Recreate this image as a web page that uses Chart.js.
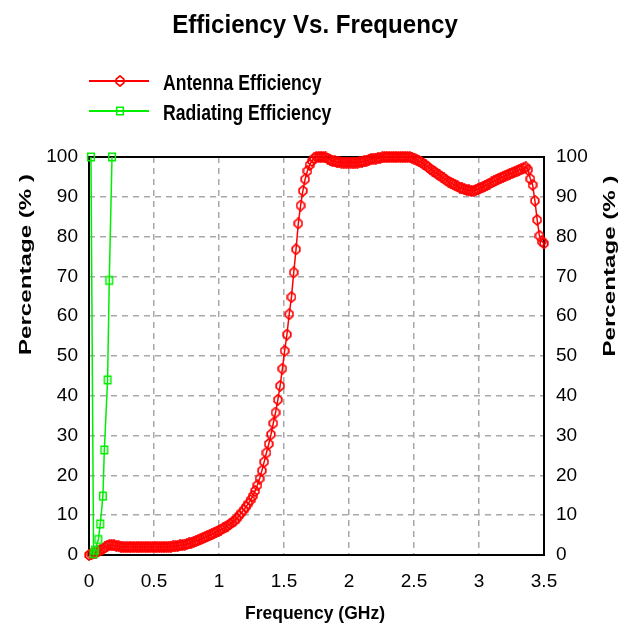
<!DOCTYPE html>
<html>
<head>
<meta charset="utf-8">
<script src="https://cdn.jsdelivr.net/npm/chart.js@4.4.1/dist/chart.umd.min.js"></script>
<style>
    html, body { margin: 0; padding: 0; background: #fff; }
    #wrap { width: 629px; height: 632px; }
</style>
</head>
<body>
<div id="wrap"><canvas id="chartEff" width="629" height="632"></canvas></div>
<script>
// frequency in GHz, efficiency in %
const antFreq = [
    0, 0.0175, 0.035, 0.0525, 0.07, 0.0875, 0.105, 0.1225, 0.14, 0.1575,
    0.175, 0.1925, 0.21, 0.2275, 0.245, 0.2625, 0.28, 0.2975, 0.315, 0.3325,
    0.35, 0.3675, 0.385, 0.4025, 0.42, 0.4375, 0.455, 0.4725, 0.49, 0.5075,
    0.525, 0.5425, 0.56, 0.5775, 0.595, 0.6125, 0.63, 0.6475, 0.665, 0.6825,
    0.7, 0.7175, 0.735, 0.7525, 0.77, 0.7875, 0.805, 0.8225, 0.84, 0.8575,
    0.875, 0.8925, 0.91, 0.9275, 0.945, 0.9625, 0.98, 0.9975, 1.015, 1.0325,
    1.05, 1.0675, 1.085, 1.1025, 1.12, 1.1375, 1.155, 1.1725, 1.19, 1.2075,
    1.225, 1.2425, 1.26, 1.2775, 1.295, 1.3125, 1.33, 1.3475, 1.365, 1.3825,
    1.4, 1.4175, 1.435, 1.4525, 1.47, 1.4875, 1.505, 1.5225, 1.54, 1.5575,
    1.575, 1.5925, 1.61, 1.6275, 1.645, 1.6625, 1.68, 1.6975, 1.715, 1.7325,
    1.75, 1.7675, 1.785, 1.8025, 1.82, 1.8375, 1.855, 1.8725, 1.89, 1.9075,
    1.925, 1.9425, 1.96, 1.9775, 1.995, 2.0125, 2.03, 2.0475, 2.065, 2.0825,
    2.1, 2.1175, 2.135, 2.1525, 2.17, 2.1875, 2.205, 2.2225, 2.24, 2.2575,
    2.275, 2.2925, 2.31, 2.3275, 2.345, 2.3625, 2.38, 2.3975, 2.415, 2.4325,
    2.45, 2.4675, 2.485, 2.5025, 2.52, 2.5375, 2.555, 2.5725, 2.59, 2.6075,
    2.625, 2.6425, 2.66, 2.6775, 2.695, 2.7125, 2.73, 2.7475, 2.765, 2.7825,
    2.8, 2.8175, 2.835, 2.8525, 2.87, 2.8875, 2.905, 2.9225, 2.94, 2.9575,
    2.975, 2.9925, 3.01, 3.0275, 3.045, 3.0625, 3.08, 3.0975, 3.115, 3.1325,
    3.15, 3.1675, 3.185, 3.2025, 3.22, 3.2375, 3.255, 3.2725, 3.29, 3.3075,
    3.325, 3.3425, 3.36, 3.3775, 3.395, 3.4125, 3.43, 3.4475, 3.465, 3.4825,
    3.5,
];
const antEff = [
    0, 0.2, 0.4, 0.6, 0.9, 1.2, 1.5, 1.9, 2.3, 2.5,
    2.5, 2.4, 2.3, 2.2, 2.1, 2.0, 2.0, 2.0, 2.0, 2.0,
    2.0, 2.0, 2.0, 2.0, 2.0, 2.0, 2.0, 2.0, 2.0, 2.0,
    2.0, 2.0, 2.0, 2.0, 2.0, 2.05, 2.1, 2.15, 2.2, 2.3,
    2.4, 2.5, 2.6, 2.75, 2.9, 3.1, 3.3, 3.5, 3.7, 3.95,
    4.2, 4.45, 4.7, 4.95, 5.2, 5.5, 5.8, 6.1, 6.4, 6.7,
    7.0, 7.4, 7.8, 8.2, 8.6, 9.2, 9.9, 10.6, 11.3, 12.1,
    12.9, 13.8, 14.8, 16.1, 17.5, 19.2, 21.2, 23.4, 25.7, 27.9,
    30.3, 33.1, 35.8, 39.0, 42.5, 46.8, 51.3, 55.4, 60.5, 64.8,
    71.0, 76.8, 83.3, 87.8, 91.5, 94.4, 96.5, 98.0, 99.0, 99.7,
    100, 100, 100, 100, 99.9, 99.6, 99.3, 99.0, 98.9, 98.7,
    98.7, 98.6, 98.6, 98.6, 98.6, 98.6, 98.6, 98.6, 98.6, 98.7,
    98.8, 98.9, 99.1, 99.3, 99.5, 99.6, 99.6, 99.7, 99.8, 99.9,
    100, 100, 100, 100, 100, 100, 100, 100, 100, 100,
    100, 100, 99.8, 99.6, 99.3, 99.0, 98.7, 98.3, 97.9, 97.5,
    97.0, 96.6, 96.2, 95.8, 95.4, 95.0, 94.6, 94.2, 93.8, 93.5,
    93.2, 92.9, 92.6, 92.3, 92.1, 91.9, 91.7, 91.6, 91.5, 91.5,
    91.7, 91.9, 92.2, 92.4, 92.7, 93.0, 93.3, 93.6, 93.9, 94.2,
    94.5, 94.8, 95.0, 95.3, 95.5, 95.8, 96.0, 96.2, 96.4, 96.7,
    96.9, 97.2, 97.4, 96.8, 94.5, 93.0, 89.0, 84.2, 80.2, 78.8,
    78.3,
];
const radFreq = [0.015, 0.035, 0.046, 0.072, 0.087, 0.107, 0.118, 0.143, 0.156, 0.177];
const radEff = [100, 0.3, 1.2, 3.9, 7.8, 14.8, 26.4, 44, 69, 100];
const yTicks = [0, 10, 20, 30, 40, 50, 60, 70, 80, 90, 100];
const xTicks = [0, 0.5, 1, 1.5, 2, 2.5, 3, 3.5];

const FONT = "'Liberation Sans', Arial, sans-serif";

// small canvases used as point markers (hollow diamond / hollow square)
function makeMarker(kind, color) {
    const c = document.createElement("canvas");
    c.width = 10;
    c.height = 12;
    const g = c.getContext("2d");
    g.strokeStyle = color;
    g.lineWidth = 1.7;
    g.beginPath();
    if (kind === "diamond") {
        g.moveTo(5, 0.9);
        g.lineTo(8.8, 4.2);
        g.lineTo(8.8, 7.8);
        g.lineTo(5, 11.1);
        g.lineTo(1.2, 7.8);
        g.lineTo(1.2, 4.2);
        g.closePath();
    } else {
        g.lineWidth = 1.5;
        g.rect(1.7, 2.2, 6.6, 7.6);
    }
    g.stroke();
    return c;
}
const redMarker = makeMarker("diamond", "#ff0000");
const greenMarker = makeMarker("square", "#00ee00");

function drawText(c, text, x, y, font, opts) {
    c.save();
    c.translate(x, y);
    if (opts.rot) c.rotate(opts.rot);
    c.scale(opts.sx || 1, opts.sy || 1);
    c.font = font;
    c.fillStyle = "#000";
    c.textAlign = opts.align || "center";
    c.textBaseline = "alphabetic";
    c.fillText(text, 0, 0);
    c.restore();
}

//frame round the plot, titles and legend
const framePlugin = {
    id: "framePlugin",
    beforeDatasetsDraw: (chart) => {
        const a = chart.chartArea;
        const c = chart.ctx;
        c.save();
        c.strokeStyle = "#000";
        c.lineWidth = 2;
        c.strokeRect(a.left, a.top, a.right - a.left, a.bottom - a.top);
        c.restore();
    },
    afterDraw: (chart) => {
        const c = chart.ctx;
        drawText(c, "Efficiency Vs. Frequency", 315, 33, "bold 25px " + FONT, { sx: 0.965 });

        chart.data.datasets.forEach((ds, i) => {
            const y = 81 + i * 30;
            c.save();
            c.strokeStyle = ds.borderColor;
            c.lineWidth = 1.8;
            c.beginPath();
            c.moveTo(89, y);
            c.lineTo(149, y);
            c.stroke();
            const m = ds.pointStyle;
            c.drawImage(m, 120 - m.width / 2, y - m.height / 2);
            c.restore();
            drawText(c, ds.label, 163, y + 8.5, "bold 22px " + FONT, { sx: 0.8, align: "left" });
        });

        drawText(c, "Percentage (% )", 30.5, 264.5, "bold 17px " + FONT, { rot: -Math.PI / 2, sx: 1.42 });
        drawText(c, "Percentage (% )", 615, 266, "bold 17px " + FONT, { rot: -Math.PI / 2, sx: 1.42 });
        drawText(c, "Frequency (GHz)", 315, 619, "bold 17.5px " + FONT, {});
    },
};

const tickFont = { family: FONT, size: 19 };

new Chart(document.getElementById("chartEff").getContext("2d"), {
    type: "line",
    data: {
        datasets: [
            {
                label: "Antenna Efficiency",
                data: antFreq.map((f, i) => ({ x: f, y: antEff[i] })),
                borderColor: "#ff0000",
                borderWidth: 1.5,
                pointStyle: redMarker,
                pointRadius: 4,
                tension: 0,
                clip: false,
                order: 1,
            },
            {
                label: "Radiating Efficiency",
                data: radFreq.map((f, i) => ({ x: f, y: radEff[i] })),
                borderColor: "#00ee00",
                borderWidth: 1.5,
                pointStyle: greenMarker,
                pointRadius: 4,
                tension: 0,
                clip: false,
                order: 0,
            },
        ],
    },
    options: {
        responsive: false,
        animation: false,
        devicePixelRatio: 1,
        layout: { padding: { top: 157, left: 0, right: 0, bottom: 0 } },
        plugins: {
            legend: { display: false },
            tooltip: { enabled: false },
        },
        scales: {
            x: {
                type: "linear",
                min: 0,
                max: 3.5,
                afterBuildTicks: (s) => { s.ticks = xTicks.map((v) => ({ value: v })); },
                afterFit: (s) => { s.height = 77; },
                ticks: {
                    color: "#000",
                    font: tickFont,
                    padding: 15,
                    maxRotation: 0,
                    callback: (v) => String(v),
                },
                grid: { color: "#a8a8a8", lineWidth: 1.5, drawTicks: false },
                border: { display: false, dash: [6, 5] },
            },
            y: {
                position: "left",
                min: 0,
                max: 100,
                afterBuildTicks: (s) => { s.ticks = yTicks.map((v) => ({ value: v })); },
                afterFit: (s) => { s.width = 89; },
                ticks: { color: "#000", font: tickFont, padding: 11 },
                grid: { color: "#a8a8a8", lineWidth: 1.5, drawTicks: false },
                border: { display: false, dash: [6, 5] },
            },
            y2: {
                position: "right",
                min: 0,
                max: 100,
                afterBuildTicks: (s) => { s.ticks = yTicks.map((v) => ({ value: v })); },
                afterFit: (s) => { s.width = 85; },
                ticks: { color: "#000", font: tickFont, padding: 12 },
                grid: { drawOnChartArea: false, drawTicks: false },
                border: { display: false },
            },
        },
    },
    plugins: [framePlugin],
});
</script>
</body>
</html>
